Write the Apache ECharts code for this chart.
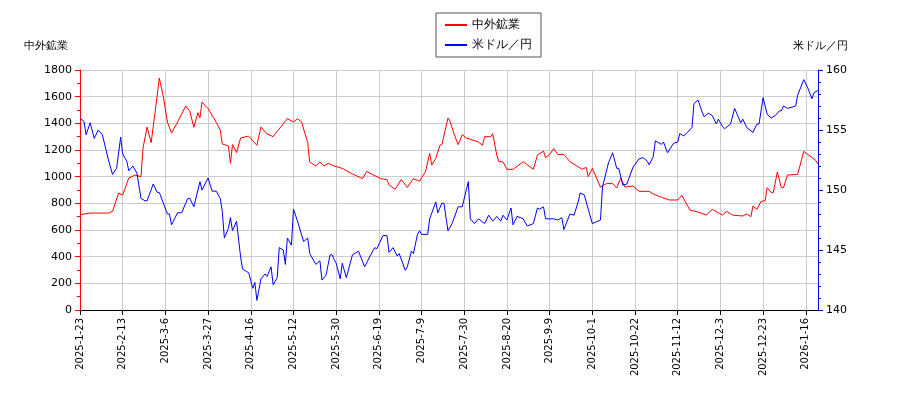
<!DOCTYPE html>
<html><head><meta charset="utf-8">
<script src="https://cdn.jsdelivr.net/npm/echarts@6/dist/echarts.min.js"></script>
<style>html,body{margin:0;background:#fff}#c{width:900px;height:400px}</style>
</head><body><div id="c"></div>
<script>
const tickLabels=['2025-1-23','2025-2-13','2025-3-6','2025-3-27','2025-4-16','2025-5-12','2025-5-30','2025-6-19','2025-7-9','2025-7-30','2025-8-20','2025-9-9','2025-10-1','2025-10-22','2025-11-12','2025-12-3','2025-12-23','2026-1-16'];
// sample positions (1 unit = 2/3 trading day; tick every 21 units)
const redPos=[0,2,5,10,14,16,19,21,24,27,30,31,33,35,38,39,41,43,45,48,52,54,56,58,59,60,63,66,69,70,73,74,75,77,79,83,87,89,92,95,97,102,105,107,109,112,113,116,118,120,122,125,129,134,139,141,144,148,151,152,155,158,161,164,167,170,172,173,175,177,178,181,182,184,186,188,190,196,198,199,202,203,205,206,208,210,213,218,223,225,228,229,231,233,235,238,241,247,249,250,252,256,259,262,264,266,268,272,275,280,282,286,290,294,296,300,305,308,311,316,318,321,326,328,330,331,333,335,337,338,340,341,343,345,346,348,353,354,356,358,360,362,363];
const redVal=[715,720,727,727,727,740,877,862,990,1012,1000,1215,1372,1255,1612,1740,1600,1410,1327,1410,1530,1490,1370,1480,1440,1560,1510,1435,1350,1245,1230,1100,1240,1180,1290,1305,1235,1372,1320,1300,1340,1435,1410,1435,1410,1255,1110,1080,1110,1080,1100,1080,1062,1020,985,1040,1015,985,978,938,905,978,920,985,965,1040,1175,1087,1137,1235,1240,1440,1415,1320,1240,1315,1290,1260,1235,1300,1300,1322,1162,1112,1112,1055,1055,1112,1055,1162,1192,1142,1167,1210,1167,1167,1112,1055,1070,1000,1062,922,948,948,915,990,922,930,890,890,870,845,825,825,860,750,730,712,755,712,740,712,705,720,700,780,755,815,820,917,880,880,1035,917,917,1012,1017,1075,1190,1165,1145,1120,1095];
const bluePos=[0,2,3,5,7,9,11,14,16,18,20,21,23,24,26,28,30,32,33,36,38,39,43,44,45,48,50,53,54,56,59,60,63,65,67,69,70,71,73,74,75,77,79,80,82,83,85,86,87,89,91,92,94,95,97,98,100,101,102,104,105,107,110,112,113,116,118,119,121,123,124,125,126,128,129,131,134,137,140,143,145,146,149,151,152,154,156,157,160,161,163,164,166,167,168,171,172,175,176,178,179,181,183,186,188,191,192,194,196,199,201,203,205,207,208,210,212,213,215,218,220,223,225,226,228,229,233,235,237,238,241,243,245,246,248,252,256,257,260,262,264,265,267,269,272,275,277,279,280,282,283,286,287,289,292,294,295,297,301,302,304,306,307,309,311,313,314,316,317,320,322,324,325,326,328,331,333,334,336,338,340,342,344,345,346,348,352,353,356,358,360,361,363];
const blueVal=[156.0,155.7,154.6,155.6,154.3,155.0,154.6,152.5,151.3,151.8,154.4,153.0,152.4,151.6,152.0,151.4,149.3,149.1,149.1,150.5,149.8,149.8,148.0,148.0,147.1,148.1,148.1,149.3,149.3,148.6,150.7,150.0,151.0,149.9,149.9,149.3,148.2,146.0,146.8,147.7,146.6,147.4,144.4,143.4,143.2,143.1,141.8,142.3,140.8,142.6,143.0,142.8,143.6,142.1,142.7,145.2,145.0,143.8,146.0,145.4,148.4,147.4,145.7,146.0,144.7,143.8,144.1,142.5,142.9,144.6,144.6,144.2,143.9,142.6,143.9,142.7,144.6,144.9,143.6,144.6,145.2,145.1,146.2,146.2,144.8,145.2,144.5,144.7,143.3,143.6,144.9,144.7,146.3,146.6,146.3,146.3,147.6,149.0,148.1,148.9,148.9,146.6,147.2,148.6,148.6,150.7,147.6,147.2,147.6,147.2,147.9,147.4,147.8,147.4,147.9,147.5,148.5,147.1,147.8,147.6,147.0,147.2,148.5,148.4,148.6,147.6,147.6,147.5,147.7,146.7,148.0,147.9,149.0,149.75,149.6,147.2,147.5,150.25,152.3,153.1,151.8,151.8,150.4,150.5,151.9,152.6,152.7,152.4,152.1,152.8,154.1,153.8,154.0,153.1,153.9,154.0,154.7,154.5,155.2,157.2,157.5,156.5,156.1,156.4,156.2,155.5,155.9,155.3,155.1,155.5,156.8,156.0,155.6,155.9,155.2,154.8,155.5,155.5,157.7,156.3,156.0,156.2,156.6,156.6,157.0,156.8,157.0,157.9,159.2,158.5,157.6,158.1,158.3];

const zip=(a,b)=>a.map((v,i)=>[v,b[i]]);
const font='DejaVu Sans';
const chart=echarts.init(document.getElementById('c'));
chart.setOption({
  animation:false,backgroundColor:'#fff',
  textStyle:{fontFamily:font},
  grid:{left:80,right:82,top:70,bottom:90},
  legend:{top:13,left:436,orient:'vertical',itemWidth:22,itemHeight:2,itemGap:8,
    borderColor:'#555',borderWidth:1,borderRadius:0,padding:[6,9],
    textStyle:{fontSize:12,color:'#000'},
    data:[{name:'中外鉱業',icon:'rect'},{name:'米ドル／円',icon:'rect'}]},
  xAxis:{type:'value',min:0,max:363,interval:21,
    axisLine:{lineStyle:{color:'#000'}},axisTick:{lineStyle:{color:'#000'}},
    splitLine:{lineStyle:{color:'#ccc'}},
    axisLabel:{rotate:90,fontSize:10,color:'#000',showMaxLabel:false,formatter:v=>tickLabels[Math.round(v/21)]||''}},
  yAxis:[
    {type:'value',min:0,max:1800,interval:200,name:'中外鉱業',nameLocation:'end',
     nameGap:18,nameTextStyle:{color:'#000',fontSize:11,align:'right',padding:[0,12,0,0]},
     axisLine:{show:true,lineStyle:{color:'red'}},axisTick:{show:true,lineStyle:{color:'red'}},
     minorTick:{show:true,splitNumber:2,lineStyle:{color:'red'}},
     splitLine:{lineStyle:{color:'#ccc'}},axisLabel:{color:'#000',fontSize:11,formatter:v=>String(v)}},
    {type:'value',min:140,max:160,interval:5,name:'米ドル／円',nameLocation:'end',
     nameGap:18,nameTextStyle:{color:'#000',fontSize:11,align:'left',padding:[0,0,0,-25]},
     axisLine:{show:true,lineStyle:{color:'blue'}},axisTick:{show:true,lineStyle:{color:'blue'}},
     minorTick:{show:true,splitNumber:5,lineStyle:{color:'blue'}},
     splitLine:{show:false},axisLabel:{color:'#000',fontSize:11,formatter:v=>String(v)}}
  ],
  series:[
    {name:'中外鉱業',type:'line',yAxisIndex:0,data:zip(redPos,redVal),showSymbol:false,
     lineStyle:{color:'red',width:1},itemStyle:{color:'red'}},
    {name:'米ドル／円',type:'line',yAxisIndex:1,data:zip(bluePos,blueVal),showSymbol:false,
     lineStyle:{color:'blue',width:1},itemStyle:{color:'blue'}}
  ]
});
</script></body></html>
